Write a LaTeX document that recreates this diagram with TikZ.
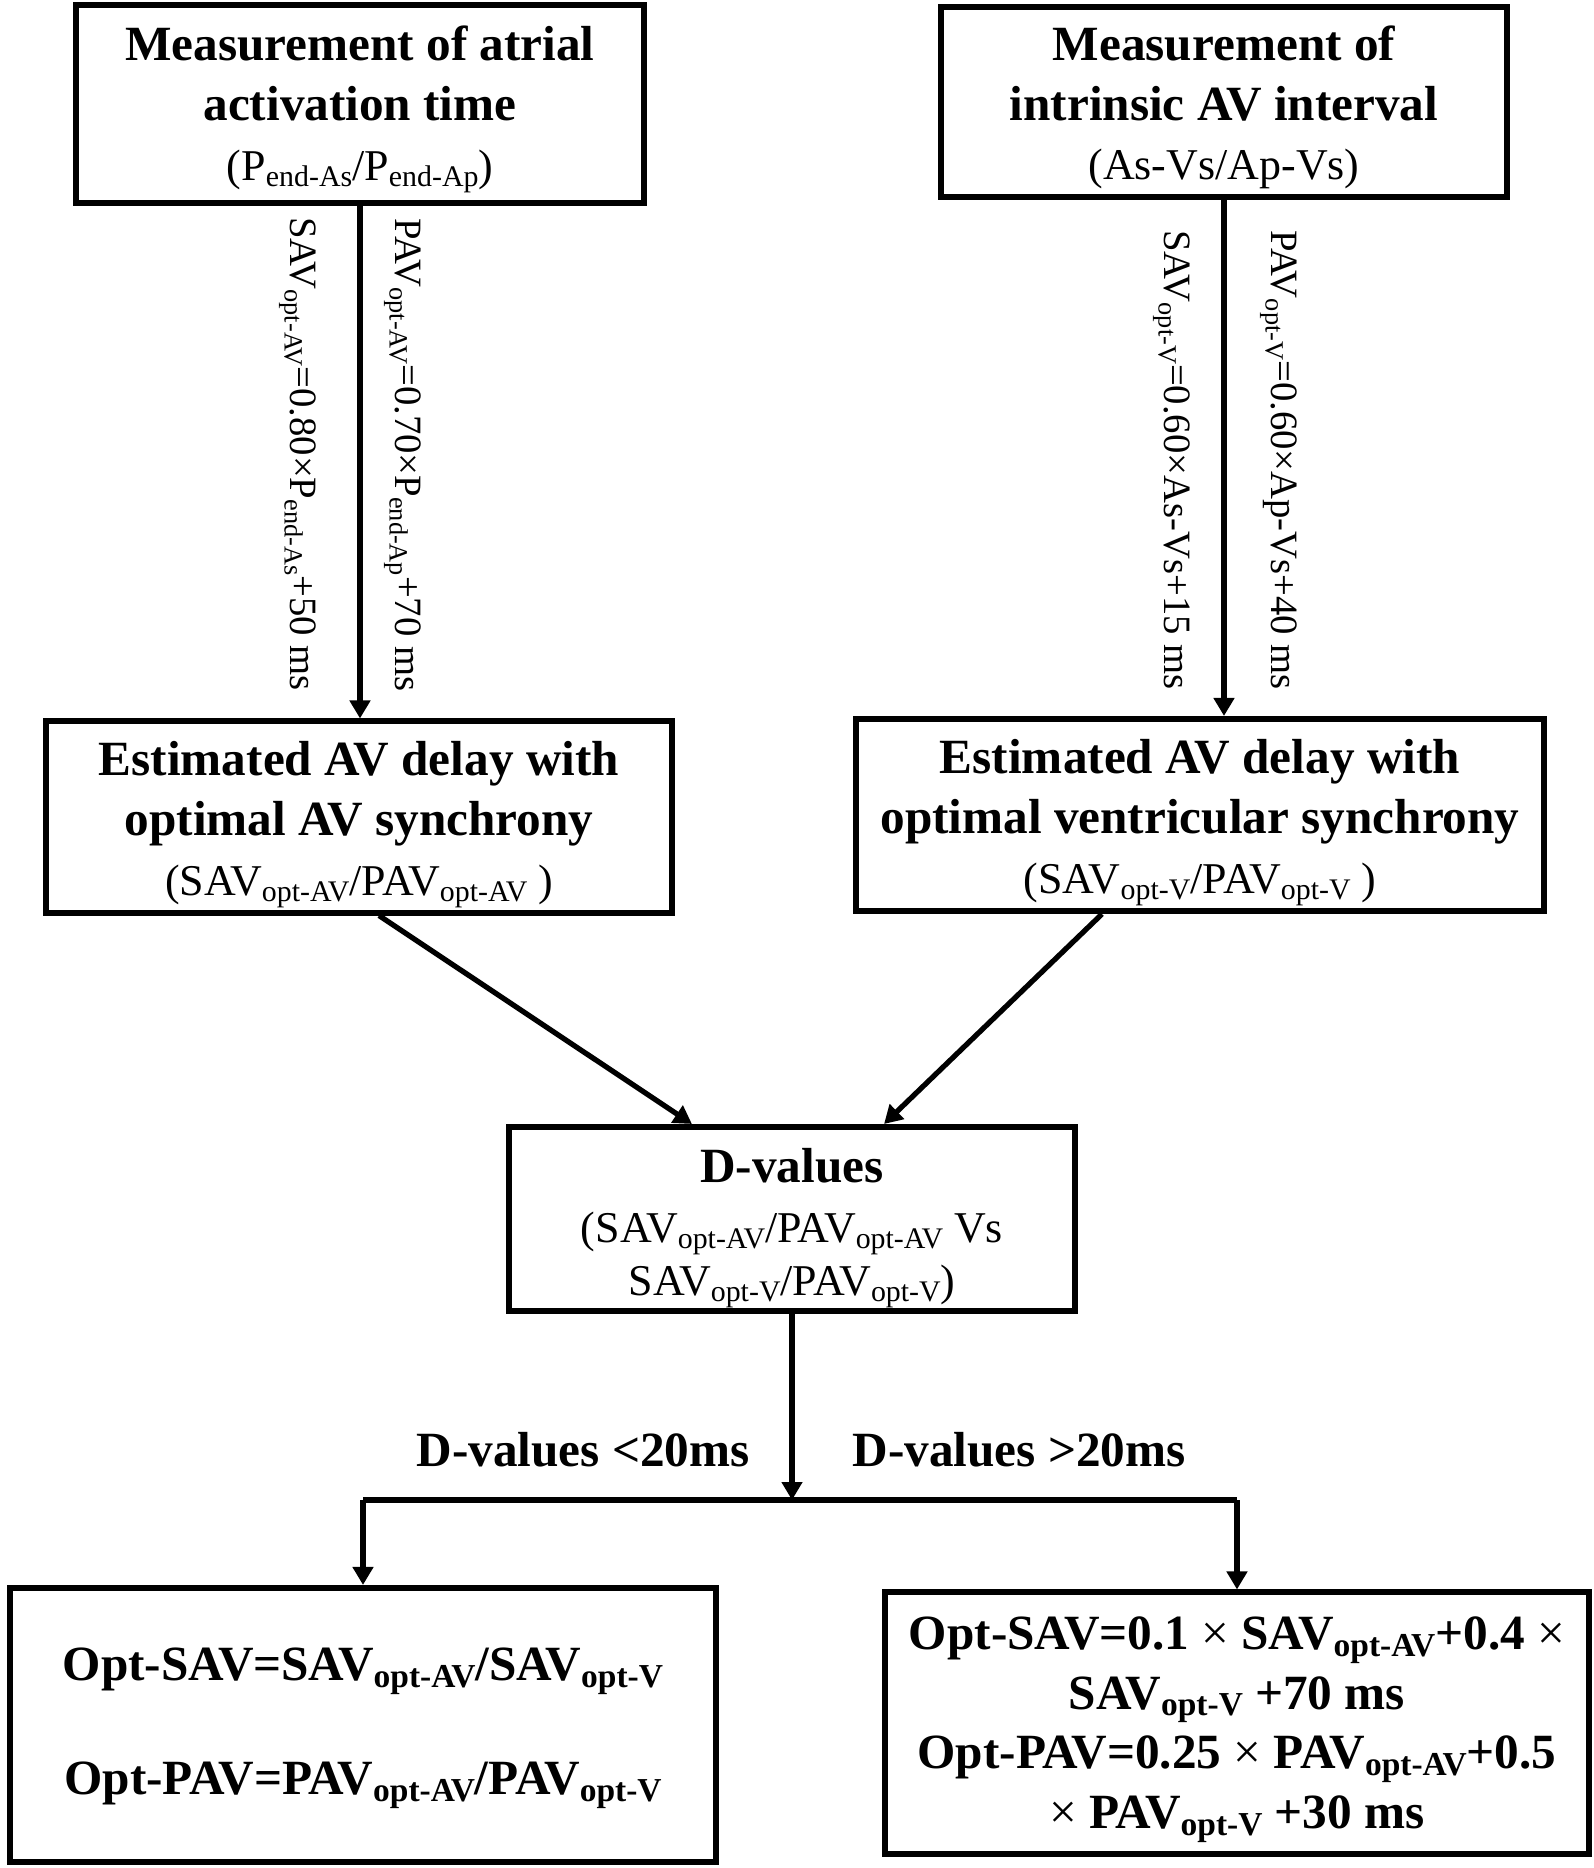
\documentclass[tikz,border=0pt]{standalone}
\usepackage{fontspec}
\setmainfont{Liberation Serif}
\usetikzlibrary{arrows.meta}
\newcommand{\lowsub}[1]{\raisebox{-0.3ex}{\scalebox{0.68}{#1}}}
\newcommand{\bigbf}{\fontsize{14}{17}\selectfont\bfseries}
\newcommand{\smallrm}{\fontsize{12.5}{15}\selectfont\mdseries}
\newcommand{\thinx}{{\mdseries ×}}
\newcommand{\topgap}[1]{\rule{0pt}{#1}}

\begin{document}
\begin{tikzpicture}[x=0.01cm,y=-0.01cm,
  box/.style={draw,line width=1.7pt,align=center,inner sep=0pt,font=\bigbf},
  flow/.style={line width=1.5pt,-{Triangle[length=0.18cm,width=0.2cm]}},
  formula/.style={rotate=-90,anchor=base,inner sep=0pt,font=\fontsize{11}{13}\selectfont}] % AV delay flow chart
       \useasboundingbox (0,0) rectangle (1594,1868);
       \node[box,minimum width=5.67cm,minimum height=1.98cm] (atrial) at (360,104)
            {\topgap{13pt}Measurement of atrial\\activation time\\{\smallrm (P\lowsub{end-As}/P\lowsub{end-Ap})}};
       \node[box,minimum width=5.66cm,minimum height=1.90cm] (intrinsic) at (1224,102)
            {\topgap{13pt}Measurement of\\intrinsic AV interval\\{\smallrm (As-Vs/Ap-Vs)}};
       \node[box,minimum width=6.25cm,minimum height=1.91cm] (avsync) at (359,817)
            {\topgap{14pt}Estimated AV delay with\\optimal AV synchrony\\{\smallrm (SAV\lowsub{opt-AV}/PAV\lowsub{opt-AV} )}};
       \node[box,minimum width=6.88cm,minimum height=1.92cm] (vsync) at (1200,815)
            {\topgap{14pt}Estimated AV delay with\\optimal ventricular synchrony\\{\smallrm (SAV\lowsub{opt-V}/PAV\lowsub{opt-V} )}};
       \node[box,minimum width=5.65cm,minimum height=1.84cm] (dval) at (792,1219)
            {\topgap{14.9pt}D-values\\{\smallrm (SAV\lowsub{opt-AV}/PAV\lowsub{opt-AV} Vs}\\[-2pt]{\smallrm SAV\lowsub{opt-V}/PAV\lowsub{opt-V})}};
       \node[box,minimum width=7.06cm,minimum height=2.74cm] (equal) at (363,1725)
            {\topgap{11.2pt}Opt-SAV=SAV\lowsub{opt-AV}/SAV\lowsub{opt-V}\\[15.3pt]Opt-PAV=PAV\lowsub{opt-AV}/PAV\lowsub{opt-V}};
       \node[box,minimum width=7.04cm,minimum height=2.61cm] (weight) at (1237,1723)
            {\topgap{13pt}Opt-SAV=0.1 \thinx{} SAV\lowsub{opt-AV}+0.4 \thinx\\SAV\lowsub{opt-V} +70 ms\\
             Opt-PAV=0.25 \thinx{} PAV\lowsub{opt-AV}+0.5\\\thinx{} PAV\lowsub{opt-V} +30 ms};
       \node[formula] (savatrial) at (290,454) {SAV\lowsub{opt-AV}=0.80×P\lowsub{end-As}+50 ms};
       \node[formula] (pavatrial) at (395,455) {PAV\lowsub{opt-AV}=0.70×P\lowsub{end-Ap}+70 ms};
       \node[formula] (savintr) at (1164,460) {SAV\lowsub{opt-V}=0.60×As-Vs+15 ms};
       \node[formula] (pavintr) at (1271,460) {PAV\lowsub{opt-V}=0.60×Ap-Vs+40 ms};
       \node[font=\bigbf] (lesslabel) at (583,1450) {D-values <20ms};
       \node[font=\bigbf] (morelabel) at (1019,1450) {D-values >20ms};
       \coordinate (split) at (dval.south |- 0,1500);
       \coordinate (lfork) at (equal.north |- split);
       \coordinate (rfork) at (weight.north |- split);
       \draw[flow] (atrial) -- (atrial |- avsync.north);
       \draw[flow] (intrinsic) -- (intrinsic |- vsync.north);
       \draw[flow] ([xshift=0.2cm]avsync.south) -- ([xshift=-1cm]dval.north);
       \draw[flow] ([xshift=-0.98cm]vsync.south) -- ([xshift=0.92cm]dval.north);
       \draw[flow] (dval) -- (split);
       \draw[line width=1.5pt] (lfork) -- (rfork);
       \draw[flow] (lfork) -- (equal);
       \draw[flow] (rfork) -- (weight);
\end{tikzpicture}
\end{document}
